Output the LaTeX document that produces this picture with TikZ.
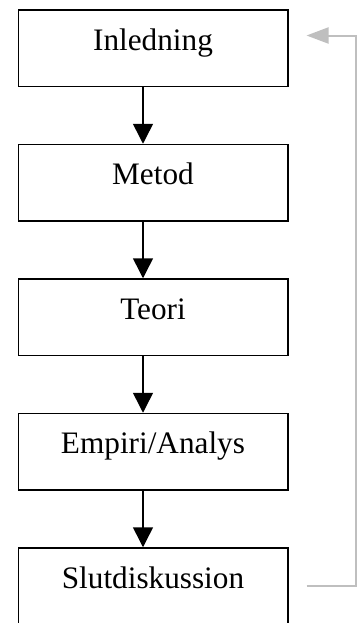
\documentclass[tikz,border=0pt]{standalone}
\usepackage{fontspec}
\setmainfont{Liberation Serif}
\usetikzlibrary{positioning}
\usetikzlibrary{arrows.meta}
\usepackage{xcolor}
\definecolor{loopgray}{HTML}{BFBFBF}

\begin{document}
\begin{tikzpicture}[node distance=22.6pt,
  stepbox/.style={draw,line width=0.6pt,minimum width=107.8pt,minimum height=30.6pt,
    inner ysep=0pt,text height=16pt,text depth=14.6pt,font=\fontsize{12.5}{15}\selectfont},
  flow/.style={line width=0.6pt,-{Triangle[length=8pt,width=8pt]}},
  feedback/.style={draw=loopgray,line width=0.8pt,-{Triangle[length=8.8pt,width=6.4pt,fill=loopgray]}}]
\useasboundingbox (0,0) rectangle (143.6pt,-249.2pt);
\node [stepbox,anchor=north west] (inl) at (7pt,-3.7pt) {Inledning};
\node [stepbox,below=of inl] (met) {Metod};
\node [stepbox,below=of met] (teo) {Teori};
\node [stepbox,below=of teo] (emp) {Empiri/Analys};
\node [stepbox,below=of emp] (slut) {Slutdiskussion};

\draw [flow] ([xshift=-4pt]inl.south) -- ([xshift=-4pt]met.north);
\draw [flow] ([xshift=-4pt]met.south) -- ([xshift=-4pt]teo.north);
\draw [flow] ([xshift=-4pt]teo.south) -- ([xshift=-4pt]emp.north);
\draw [flow] ([xshift=-4pt]emp.south) -- ([xshift=-4pt]slut.north);

% back to the start
\coordinate [right=7.2pt of slut.east] (fbstart);
\coordinate (fbcorner) at ([xshift=26.8pt,yshift=5.1pt]inl.east);
\coordinate (fbend) at ([xshift=7.2pt,yshift=5.1pt]inl.east);
\draw [feedback] (fbstart) -| (fbcorner) -- (fbend);
\end{tikzpicture}
\end{document}
